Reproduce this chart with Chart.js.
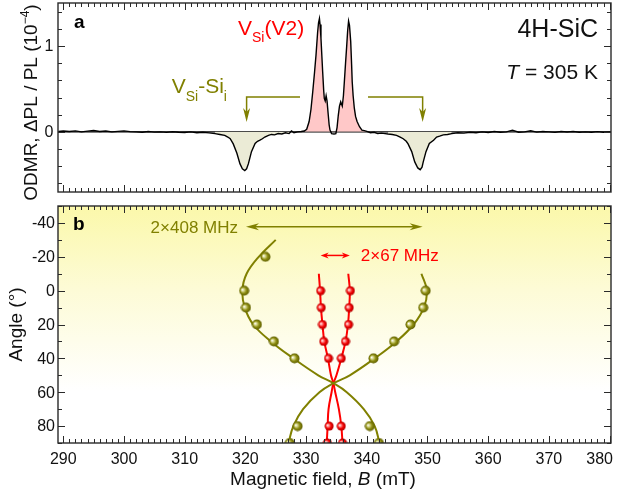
<!DOCTYPE html>
<html>
<head>
<meta charset="utf-8">
<script src="https://cdn.jsdelivr.net/npm/chart.js@4.4.0/dist/chart.umd.min.js"></script>
<style>
  html, body { margin: 0; padding: 0; background: #fff; }
  #wrap { position: relative; width: 619px; height: 496px; overflow: hidden; }
  canvas { position: absolute; left: 0; }
</style>
</head>
<body>
<div id="wrap">
  <canvas id="odmrChart" width="619" height="200" style="top:0"></canvas>
  <canvas id="angleChart" width="619" height="296" style="top:200px"></canvas>
</div>
<script>
// ---- data ----
// ODMR trace: [B (mT), ΔPL/PL (10^-4)]
const odmrTrace = [
  [289.2, 0.005], [290, 0.01], [291, 0.005], [292, 0.012], [293, 0.0], [294, 0.008], [295, 0.015],
  [296, 0.004], [297, 0.01], [298, 0.0], [299, 0.006], [300, 0.012], [301, 0.003], [302, 0.0],
  [303, -0.005], [304, 0.004], [305, -0.003], [306, 0.0], [307, -0.006], [308, 0.002], [309, -0.004],
  [310, -0.008], [311, 0.0], [312, -0.01], [313, -0.004], [314, -0.012], [315, -0.02], [315.8, -0.03],
  [316.6, -0.04], [317.1, -0.06], [317.5, -0.08], [318.0, -0.14], [318.6, -0.25], [319.1, -0.37],
  [319.5, -0.43], [319.9, -0.45], [320.2, -0.43], [320.5, -0.37], [321.0, -0.23], [321.6, -0.135],
  [322.0, -0.11], [322.4, -0.097], [322.8, -0.08], [323.2, -0.06], [323.8, -0.04], [324.3, -0.03],
  [324.8, -0.035], [325.4, -0.02], [326.0, -0.025], [326.6, -0.01], [327.2, -0.02], [327.6, 0.01],
  [328.0, -0.01], [328.6, 0.0], [329.2, 0.005], [329.7, 0.01], [330.1, 0.03], [330.5, 0.12],
  [330.8, 0.26], [331.1, 0.47], [331.4, 0.70], [331.63, 0.89], [331.9, 1.16], [332.05, 1.27],
  [332.2, 1.32], [332.3, 1.25], [332.45, 1.09], [332.6, 0.88], [332.73, 0.70], [332.9, 0.48],
  [333.0, 0.39], [333.15, 0.36], [333.3, 0.42], [333.45, 0.36], [333.66, 0.19], [333.8, 0.08],
  [333.94, 0.02], [334.2, -0.02], [334.6, -0.025], [334.9, -0.02], [335.1, 0.05], [335.3, 0.19],
  [335.5, 0.30], [335.7, 0.35], [335.96, 0.30], [336.15, 0.42], [336.3, 0.58], [336.5, 0.80],
  [336.7, 1.01], [336.85, 1.18], [337.0, 1.29], [337.15, 1.24], [337.35, 1.05], [337.5, 0.78],
  [337.6, 0.58], [337.75, 0.42], [337.94, 0.28], [338.15, 0.18], [338.4, 0.12], [338.8, 0.06],
  [339.2, 0.02], [339.6, 0.015], [340.0, 0.005], [340.6, -0.01], [341.2, -0.005], [341.8, -0.02],
  [342.4, -0.015], [343.0, -0.02], [343.5, -0.025], [344.2, -0.03], [344.9, -0.04], [345.5, -0.06],
  [346.0, -0.08], [346.5, -0.11], [346.8, -0.14], [347.4, -0.23], [347.9, -0.35], [348.4, -0.42],
  [348.8, -0.44], [349.1, -0.41], [349.3, -0.35], [349.75, -0.23], [350.3, -0.135], [351.0, -0.097],
  [351.5, -0.06], [352.0, -0.05], [352.6, -0.035], [353.3, -0.03], [354.0, -0.02], [355, -0.01],
  [356, -0.015], [357, -0.005], [358, -0.01], [359, 0.0], [360, -0.008], [361, 0.004], [362, -0.005],
  [363, 0.0], [364, 0.02], [365, -0.004], [366, 0.0], [367, 0.012], [368, -0.003], [369, 0.004],
  [370, 0.0], [371, -0.006], [372, 0.005], [373, -0.002], [374, 0.004], [375, -0.004], [376, 0.0],
  [377, -0.005], [378, 0.003], [379, -0.004], [380, 0.0], [380.2, -0.003]
];
const v2PeakRange = [329.7, 340.0];
const vsiDipRanges = [[315.0, 328.0], [343.5, 354.0]];

// angular dependence: [B (mT), angle (deg)]
const siCurveA = [[325.0, -30], [322.2, -20], [320.2, -10], [319.5, 0], [319.9, 10], [321.3, 20], [324.2, 30],
  [327.9, 40], [332.0, 50], [334.5, 54.7], [336.7, 60], [339.5, 70], [341.3, 80], [342.1, 90]];
const siCurveB = [[349.0, -10], [349.9, 0], [349.4, 10], [347.7, 20], [344.9, 30], [341.3, 40], [337.2, 50],
  [334.5, 54.7], [332.2, 60], [329.5, 70], [327.9, 80], [327.1, 90]];
const v2CurveA = [[332.1, -10], [332.3, 0], [332.45, 10], [332.7, 20], [333.0, 30], [333.6, 40], [334.1, 50],
  [334.5, 54.7], [334.8, 60], [335.4, 70], [335.8, 80], [336.0, 90]];
const v2CurveB = [[336.95, -10], [337.2, 0], [337.1, 10], [336.9, 20], [336.5, 30], [335.8, 40], [335.0, 50],
  [334.5, 54.7], [334.2, 60], [333.7, 70], [333.55, 80], [333.4, 90]];
const siLowPts = [[323.3, -20], [319.8, 0], [320.1, 10], [321.9, 20], [324.7, 30], [328.1, 40], [328.6, 80], [327.3, 90]];
const siHighPts = [[349.7, 0], [349.3, 10], [347.2, 20], [344.5, 30], [341.1, 40], [340.5, 80], [342.0, 90]];
const v2LowPts = [[332.4, 0], [332.5, 10], [332.7, 20], [332.9, 30], [333.7, 40], [333.8, 80], [333.5, 90]];
const v2HighPts = [[337.3, 0], [337.1, 10], [337.0, 20], [336.5, 30], [335.8, 40], [335.8, 80], [336.0, 90]];

// axis ticks
const fieldTicks = [290, 300, 310, 320, 330, 340, 350, 360, 370, 380];
const odmrTicks = [0, 1];
const angleTicks = [-40, -20, 0, 20, 40, 60, 80];

const OLIVE = '#808000';
const RED = '#ff0000';
const FONT = '"Liberation Sans", Arial, sans-serif';

const toXY = arr => arr.map(p => ({ x: p[0], y: p[1] }));
const inRange = r => p => p[0] >= r[0] && p[0] <= r[1];

// ---- drawing helpers ----
function rich(ctx, parts, x, y, align) {
  const fontOf = p => `${p.i ? 'italic ' : ''}${p.b ? 'bold ' : ''}${p.s}px ${FONT}`;
  let w = 0;
  parts.forEach(p => { ctx.font = fontOf(p); w += ctx.measureText(p.t).width; });
  let cx = align === 'right' ? x - w : align === 'center' ? x - w / 2 : x;
  ctx.textAlign = 'left';
  ctx.textBaseline = 'alphabetic';
  parts.forEach(p => {
    ctx.font = fontOf(p);
    ctx.fillText(p.t, cx, y + (p.dy || 0));
    cx += ctx.measureText(p.t).width;
  });
}

function arrowHead(ctx, tx, ty, dx, dy, len, hw) {
  const nx = -dy, ny = dx;
  ctx.beginPath();
  ctx.moveTo(tx, ty);
  ctx.lineTo(tx - dx * len + nx * hw, ty - dy * len + ny * hw);
  ctx.lineTo(tx - dx * len * 0.7, ty - dy * len * 0.7);
  ctx.lineTo(tx - dx * len - nx * hw, ty - dy * len - ny * hw);
  ctx.closePath();
  ctx.fill();
}

function frameAndTicks(chart, yMinor, yMajor) {
  const { ctx, chartArea: a, scales: { x, y } } = chart;
  ctx.save();
  ctx.strokeStyle = '#2a2a2a';
  ctx.lineWidth = 1;
  ctx.beginPath();
  for (let b = 290; b <= 380; b++) {
    const px = Math.round(x.getPixelForValue(b)) + 0.5;
    const len = b % 10 === 0 ? 7 : 4;
    ctx.moveTo(px, a.bottom); ctx.lineTo(px, a.bottom - len);
    ctx.moveTo(px, a.top); ctx.lineTo(px, a.top + len);
  }
  yMinor.forEach(v => {
    const py = Math.round(y.getPixelForValue(v)) + 0.5;
    const len = yMajor.includes(v) ? 7 : 4;
    ctx.moveTo(a.left, py); ctx.lineTo(a.left + len, py);
    ctx.moveTo(a.right, py); ctx.lineTo(a.right - len, py);
  });
  ctx.stroke();
  ctx.lineWidth = 1.4;
  ctx.strokeRect(a.left, a.top, a.right - a.left, a.bottom - a.top);
  ctx.restore();
}

function yLabels(chart, values, xRight, fmt) {
  const { ctx, scales: { y } } = chart;
  ctx.save();
  ctx.fillStyle = '#111';
  ctx.font = `16px ${FONT}`;
  ctx.textAlign = 'right';
  ctx.textBaseline = 'middle';
  values.forEach(v => ctx.fillText(fmt(v), xRight, y.getPixelForValue(v) + 1));
  ctx.restore();
}

function makeBall(d, light, base, dark) {
  const c = document.createElement('canvas');
  c.width = c.height = d + 1;
  const g = c.getContext('2d');
  const r = d / 2, cc = (d + 1) / 2;
  const grd = g.createRadialGradient(cc - r * 0.4, cc - r * 0.2, 0.2, cc, cc, r);
  grd.addColorStop(0, '#ffffff');
  grd.addColorStop(0.25, light);
  grd.addColorStop(0.6, base);
  grd.addColorStop(1, dark);
  g.fillStyle = grd;
  g.beginPath();
  g.arc(cc, cc, r, 0, Math.PI * 2);
  g.fill();
  return c;
}
const redBall = makeBall(9, '#ff9090', '#f40000', '#b00000');
const oliveBall = makeBall(10, '#d8d890', '#8c8c10', '#5e5e00');

// ---- panel a ----
const decorA = {
  id: 'decorA',
  beforeDatasetsDraw(chart) {
    const { ctx, chartArea: a, scales: { y } } = chart;
    const y0 = y.getPixelForValue(0);
    ctx.save();
    ctx.strokeStyle = '#000';
    ctx.lineWidth = 1.3;
    ctx.beginPath(); ctx.moveTo(a.left, y0); ctx.lineTo(a.right, y0); ctx.stroke();
    ctx.restore();
  },
  afterDraw(chart) {
    const { ctx, scales: { x, y } } = chart;
    frameAndTicks(chart, [-0.6, -0.4, -0.2, 0, 0.2, 0.4, 0.6, 0.8, 1, 1.2, 1.4], odmrTicks);
    yLabels(chart, odmrTicks, 53.5, v => String(v));

    ctx.save();
    // olive bracket arrows pointing at the VSi-Sii dips
    ctx.strokeStyle = OLIVE; ctx.fillStyle = OLIVE; ctx.lineWidth = 1.5;
    const yl = y.getPixelForValue(0.407), yt = y.getPixelForValue(0.116);
    [[329.0, 320.2], [340.2, 349.2]].forEach(([from, to]) => {
      const x1 = x.getPixelForValue(from), x2 = x.getPixelForValue(to);
      ctx.beginPath(); ctx.moveTo(x1, yl); ctx.lineTo(x2, yl); ctx.lineTo(x2, yt - 8); ctx.stroke();
      arrowHead(ctx, x2, yt, 0, 1, 14, 3.5);
    });

    ctx.fillStyle = '#000';
    rich(ctx, [{ t: 'a', s: 19, b: true }], 74, 28.3);
    ctx.fillStyle = RED;
    rich(ctx, [{ t: 'V', s: 21 }, { t: 'Si', s: 14, dy: 6.5 }, { t: '(V2)', s: 21 }], 238, 35);
    ctx.fillStyle = OLIVE;
    rich(ctx, [{ t: 'V', s: 21 }, { t: 'Si', s: 14, dy: 8 }, { t: '-Si', s: 21 }, { t: 'i', s: 14, dy: 8 }], 171.7, 93.3);
    ctx.fillStyle = '#111';
    rich(ctx, [{ t: '4H-SiC', s: 25 }], 598, 37.3, 'right');
    rich(ctx, [{ t: 'T', s: 21, i: true }, { t: ' = 305 K', s: 21 }], 598, 79, 'right');

    // y title
    ctx.translate(37, 102.5);
    ctx.rotate(-Math.PI / 2);
    rich(ctx, [{ t: 'ODMR, \u0394PL / PL (10', s: 19 }, { t: '\u22124', s: 12, dy: -8 }, { t: ')', s: 19 }], 0, 0, 'center');
    ctx.restore();
  }
};

new Chart(document.getElementById('odmrChart'), {
  type: 'scatter',
  data: {
    datasets: [
      {
        data: toXY(odmrTrace), showLine: true, borderColor: '#000', borderWidth: 1.4,
        pointRadius: 0, tension: 0, fill: false, order: 0, clip: 0
      },
      {
        data: toXY(odmrTrace.filter(inRange(v2PeakRange))), showLine: true,
        borderColor: 'rgba(0,0,0,0)', borderWidth: 1, pointRadius: 0, tension: 0, order: 1,
        fill: { target: 'origin', above: '#ffc8c8', below: 'rgba(0,0,0,0)' }
      },
      ...vsiDipRanges.map(r => ({
        data: toXY(odmrTrace.filter(inRange(r))), showLine: true,
        borderColor: 'rgba(0,0,0,0)', borderWidth: 1, pointRadius: 0, tension: 0, order: 1,
        fill: { target: 'origin', above: 'rgba(0,0,0,0)', below: '#ebebd6' }
      }))
    ]
  },
  options: {
    responsive: false,
    animation: false,
    devicePixelRatio: 1,
    layout: { padding: { left: 58, right: 8, top: 3, bottom: 8 } },
    scales: {
      x: { type: 'linear', display: false, min: 289.13, max: 380.23 },
      y: { type: 'linear', display: false, min: -0.7, max: 1.5 }
    },
    plugins: { legend: { display: false }, tooltip: { enabled: false } }
  },
  plugins: [decorA]
});

// ---- panel b ----
const decorB = {
  id: 'decorB',
  beforeDraw(chart) {
    const { ctx, chartArea: a } = chart;
    const g = ctx.createLinearGradient(0, a.top, 0, a.bottom);
    g.addColorStop(0, '#fbf8aa');
    g.addColorStop(0.35, '#fdfbd6');
    g.addColorStop(0.78, '#ffffff');
    ctx.save();
    ctx.fillStyle = g;
    ctx.fillRect(a.left, a.top, a.right - a.left, a.bottom - a.top);
    ctx.restore();
  },
  afterDraw(chart) {
    const { ctx, chartArea: a, scales: { x, y } } = chart;
    frameAndTicks(chart, [-50, -40, -30, -20, -10, 0, 10, 20, 30, 40, 50, 60, 70, 80, 90], angleTicks);
    yLabels(chart, angleTicks, 55, v => String(v));

    ctx.save();
    // x tick labels
    ctx.fillStyle = '#111';
    ctx.font = `16px ${FONT}`;
    ctx.textBaseline = 'alphabetic';
    ctx.textAlign = 'left';
    fieldTicks.forEach(v => {
      const w = ctx.measureText(String(v)).width;
      const px = Math.min(x.getPixelForValue(v) - w / 2, 613 - w);
      ctx.fillText(String(v), px, 263.5);
    });

    // splitting arrows
    const dbl = (b1, b2, ang, color, len, hw) => {
      const x1 = x.getPixelForValue(b1), x2 = x.getPixelForValue(b2), py = y.getPixelForValue(ang);
      ctx.strokeStyle = color; ctx.fillStyle = color; ctx.lineWidth = 1.5;
      ctx.beginPath(); ctx.moveTo(x1 + len * 0.6, py); ctx.lineTo(x2 - len * 0.6, py); ctx.stroke();
      arrowHead(ctx, x1, py, -1, 0, len, hw);
      arrowHead(ctx, x2, py, 1, 0, len, hw);
      return [x1, x2, py];
    };
    const [ox1, , oy] = dbl(320.1, 349.2, -37.8, OLIVE, 13, 3.5);
    ctx.fillStyle = OLIVE;
    rich(ctx, [{ t: '2\u00d7408 MHz', s: 17 }], ox1 - 8, oy + 6, 'right');
    const [, rx2, ry] = dbl(332.4, 337.2, -20.8, RED, 8, 3);
    ctx.fillStyle = RED;
    rich(ctx, [{ t: '2\u00d767 MHz', s: 17 }], rx2 + 11, ry + 6);

    ctx.fillStyle = '#000';
    rich(ctx, [{ t: 'b', s: 19, b: true }], 73, 30);

    ctx.fillStyle = '#111';
    rich(ctx, [{ t: 'Magnetic field, ', s: 19 }, { t: 'B', s: 19, i: true }, { t: ' (mT)', s: 19 }], 323, 285, 'center');

    ctx.translate(22, 124.5);
    ctx.rotate(-Math.PI / 2);
    rich(ctx, [{ t: 'Angle (\u00b0)', s: 19 }], 0, 0, 'center');
    ctx.restore();
  }
};

const curve = (pts, color) => ({
  data: toXY(pts), showLine: true, borderColor: color, borderWidth: 2,
  pointRadius: 0, tension: 0.4, fill: false, order: 1, clip: 0
});
const balls = (pts, img) => ({
  data: toXY(pts), showLine: false, pointStyle: img, pointRadius: 5, order: 0, clip: 0
});

new Chart(document.getElementById('angleChart'), {
  type: 'scatter',
  data: {
    datasets: [
      balls(siLowPts, oliveBall), balls(siHighPts, oliveBall),
      balls(v2LowPts, redBall), balls(v2HighPts, redBall),
      curve(siCurveA, OLIVE), curve(siCurveB, OLIVE),
      curve(v2CurveA, RED), curve(v2CurveB, RED)
    ]
  },
  options: {
    responsive: false,
    animation: false,
    devicePixelRatio: 1,
    layout: { padding: { left: 58, right: 8, top: 2, bottom: 53 } },
    scales: {
      x: { type: 'linear', display: false, min: 289.13, max: 380.23 },
      y: { type: 'linear', display: false, reverse: true, min: -50, max: 90 }
    },
    plugins: { legend: { display: false }, tooltip: { enabled: false } }
  },
  plugins: [decorB]
});
</script>
</body>
</html>
